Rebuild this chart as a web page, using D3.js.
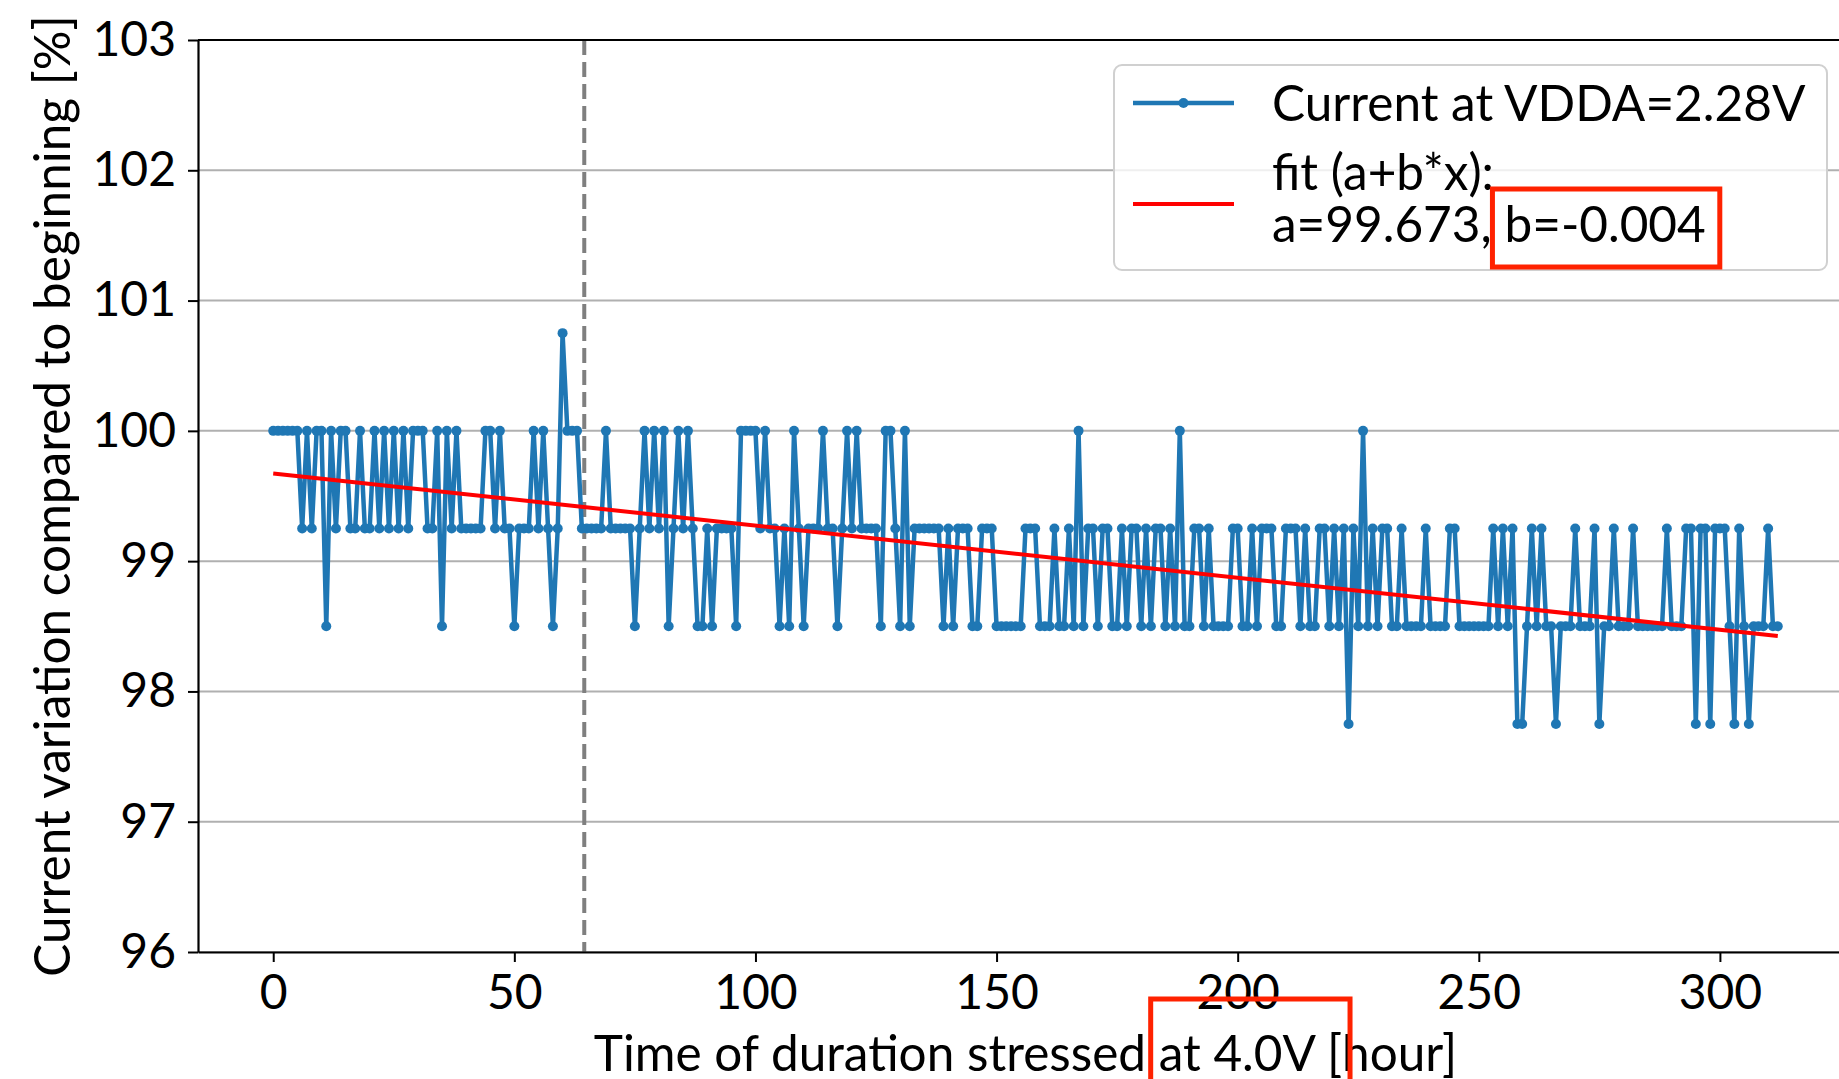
<!DOCTYPE html>
<html>
<head>
<meta charset="utf-8">
<script src="https://cdn.jsdelivr.net/npm/d3@7"></script>
<style>
  body { margin: 0; background: #fff; }
  svg text { font-family: Lato, "DejaVu Sans", sans-serif; fill: #000; }
</style>
</head>
<body>
<svg id="chart" width="1839" height="1079"></svg>
<script>
// Relative supply current (% of first reading), one reading per hour of stress.
const currentPct = [
  100,100,100,100,100,100,99.25,100,99.25,100,
  100,98.5,100,99.25,100,100,99.25,99.25,100,99.25,
  99.25,100,99.25,100,99.25,100,99.25,100,99.25,100,
  100,100,99.25,99.25,100,98.5,100,99.25,100,99.25,
  99.25,99.25,99.25,99.25,100,100,99.25,100,99.25,99.25,
  98.5,99.25,99.25,99.25,100,99.25,100,99.25,98.5,99.25,
  100.75,100,100,100,99.25,99.25,99.25,99.25,99.25,100,
  99.25,99.25,99.25,99.25,99.25,98.5,99.25,100,99.25,100,
  99.25,100,98.5,99.25,100,99.25,100,99.25,98.5,98.5,
  99.25,98.5,99.25,99.25,99.25,99.25,98.5,100,100,100,
  100,99.25,100,99.25,99.25,98.5,99.25,98.5,100,99.25,
  98.5,99.25,99.25,99.25,100,99.25,99.25,98.5,99.25,100,
  99.25,100,99.25,99.25,99.25,99.25,98.5,100,100,99.25,
  98.5,100,98.5,99.25,99.25,99.25,99.25,99.25,99.25,98.5,
  99.25,98.5,99.25,99.25,99.25,98.5,98.5,99.25,99.25,99.25,
  98.5,98.5,98.5,98.5,98.5,98.5,99.25,99.25,99.25,98.5,
  98.5,98.5,99.25,98.5,98.5,99.25,98.5,100,98.5,99.25,
  99.25,98.5,99.25,99.25,98.5,98.5,99.25,98.5,99.25,99.25,
  98.5,99.25,98.5,99.25,99.25,98.5,99.25,98.5,100,98.5,
  98.5,99.25,99.25,98.5,99.25,98.5,98.5,98.5,98.5,99.25,
  99.25,98.5,98.5,99.25,98.5,99.25,99.25,99.25,98.5,98.5,
  99.25,99.25,99.25,98.5,99.25,98.5,98.5,99.25,99.25,98.5,
  99.25,98.5,99.25,97.75,99.25,98.5,100,98.5,99.25,98.5,
  99.25,99.25,98.5,98.5,99.25,98.5,98.5,98.5,98.5,99.25,
  98.5,98.5,98.5,98.5,99.25,99.25,98.5,98.5,98.5,98.5,
  98.5,98.5,98.5,99.25,98.5,99.25,98.5,99.25,97.75,97.75,
  98.5,99.25,98.5,99.25,98.5,98.5,97.75,98.5,98.5,98.5,
  99.25,98.5,98.5,98.5,99.25,97.75,98.5,98.5,99.25,98.5,
  98.5,98.5,99.25,98.5,98.5,98.5,98.5,98.5,98.5,99.25,
  98.5,98.5,98.5,99.25,99.25,97.75,99.25,99.25,97.75,99.25,
  99.25,99.25,98.5,97.75,99.25,98.5,97.75,98.5,98.5,98.5,
  99.25,98.5,98.5
];
const hoursPerReading = 1;

// Linear fit parameters (a + b*x)
const fitA = 99.673;
const fitB = -0.004;

// Hour at which the vertical marker is drawn
const markerHour = 64.5;

const xTicks = [0, 50, 100, 150, 200, 250, 300];
const yTicks = [96, 97, 98, 99, 100, 101, 102, 103];

const seriesLabel = "Current at VDDA=2.28V";
const fitLabel1 = "fit (a+b*x):";
const fitLabel2 = `a=${fitA}, b=${fitB}`;
const xTitle = "Time of duration stressed at 4.0V [hour]";
const yTitle = "Current variation compared to beginning [%]";

// ---------------------------------------------------------------
const points = currentPct.map((v, i) => ({ h: i * hoursPerReading, v }));
const lastHour = points[points.length - 1].h;

const svg = d3.select("#chart");
const L = 198, R = 1853, T = 40, B = 952;
const FS = 49.5;   // titles and legend
const TFS = 48;    // tick labels

const xPad = lastHour * 0.05;
const x = d3.scaleLinear().domain([-xPad, lastHour + xPad]).range([L, R]);
const y = d3.scaleLinear().domain([96, 103]).range([B, T]);

// horizontal grid
svg.append("g").selectAll("line").data(yTicks).join("line")
  .attr("x1", L).attr("x2", R)
  .attr("y1", d => y(d)).attr("y2", d => y(d))
  .attr("stroke", "#b0b0b0").attr("stroke-width", 2);

// dashed marker
svg.append("line")
  .attr("x1", x(markerHour)).attr("x2", x(markerHour))
  .attr("y1", T).attr("y2", B)
  .attr("stroke", "#7f7f7f").attr("stroke-width", 4)
  .attr("stroke-dasharray", "15,7");

// measured series
svg.append("path").datum(points)
  .attr("fill", "none").attr("stroke", "#1f77b4").attr("stroke-width", 4.5)
  .attr("stroke-linejoin", "round")
  .attr("d", d3.line().x(d => x(d.h)).y(d => y(d.v)));
svg.append("g").selectAll("circle").data(points).join("circle")
  .attr("cx", d => x(d.h)).attr("cy", d => y(d.v)).attr("r", 5)
  .attr("fill", "#1f77b4");

// fit line
const fitPts = [0, lastHour].map(h => ({ h, v: fitA + fitB * h }));
svg.append("path").datum(fitPts)
  .attr("fill", "none").attr("stroke", "#ff0000").attr("stroke-width", 4)
  .attr("d", d3.line().x(d => x(d.h)).y(d => y(d.v)));

// axes
const xAxis = svg.append("g").attr("transform", `translate(0,${B})`)
  .call(d3.axisBottom(x).tickValues(xTicks).tickFormat(d3.format("d")).tickSize(10).tickPadding(13).tickSizeOuter(0));
const yAxis = svg.append("g").attr("transform", `translate(${L},0)`)
  .call(d3.axisLeft(y).tickValues(yTicks).tickFormat(d3.format("d")).tickSize(10).tickPadding(12).tickSizeOuter(0));
[xAxis, yAxis].forEach(g => {
  g.selectAll("text").attr("font-size", TFS).attr("fill", "#000");
  g.selectAll(".tick line").attr("stroke", "#000").attr("stroke-width", 2);
  g.select(".domain").attr("stroke", "#000").attr("stroke-width", 2.2);
});
// top and right spines
svg.append("line").attr("x1", L).attr("x2", R).attr("y1", T).attr("y2", T)
  .attr("stroke", "#000").attr("stroke-width", 2.2);
svg.append("line").attr("x1", R).attr("x2", R).attr("y1", T).attr("y2", B)
  .attr("stroke", "#000").attr("stroke-width", 2.2);

// axis titles
const xt = svg.append("text").attr("x", (L + R) / 2).attr("y", 1071)
  .attr("text-anchor", "middle").attr("font-size", FS).text(xTitle);
svg.append("text")
  .attr("transform", `translate(51,${(T + B) / 2}) rotate(-90)`)
  .attr("text-anchor", "middle").attr("dominant-baseline", "central")
  .attr("font-size", FS).text(yTitle);

// legend
const lg = svg.append("g");
lg.append("rect").attr("x", 1114).attr("y", 65).attr("width", 713).attr("height", 205)
  .attr("rx", 8).attr("fill", "#fff").attr("fill-opacity", 0.8)
  .attr("stroke", "#d0d0d0").attr("stroke-width", 2);
lg.append("line").attr("x1", 1133).attr("x2", 1234).attr("y1", 103).attr("y2", 103)
  .attr("stroke", "#1f77b4").attr("stroke-width", 4.5);
lg.append("circle").attr("cx", 1183.5).attr("cy", 103).attr("r", 5).attr("fill", "#1f77b4");
lg.append("line").attr("x1", 1133).attr("x2", 1234).attr("y1", 204).attr("y2", 204)
  .attr("stroke", "#ff0000").attr("stroke-width", 4);
lg.append("text").attr("x", 1272).attr("y", 121).attr("font-size", FS).text(seriesLabel);
lg.append("text").attr("x", 1272).attr("y", 190).attr("font-size", FS).text(fitLabel1);
const fit2 = lg.append("text").attr("x", 1272).attr("y", 242).attr("font-size", FS).text(fitLabel2);

// highlight boxes around the slope value and the stress voltage
const hl = svg.append("g").attr("fill", "none").attr("stroke", "#ff2200").attr("stroke-width", 5);
{
  const node = fit2.node();
  const i0 = fitLabel2.indexOf("b=");
  const x0 = node.getStartPositionOfChar(i0).x;
  const x1 = node.getEndPositionOfChar(fitLabel2.length - 1).x;
  hl.append("rect").attr("x", x0 - 12).attr("y", 189).attr("width", x1 - x0 + 26).attr("height", 78);
}
{
  const node = xt.node();
  const i0 = xTitle.indexOf("at 4");
  const i1 = xTitle.indexOf("hour");
  const x0 = node.getStartPositionOfChar(i0).x;
  const x1 = node.getStartPositionOfChar(i1).x;
  hl.append("rect").attr("x", x0 - 8).attr("y", 999).attr("width", x1 - x0 + 16).attr("height", 120);
}
</script>
</body>
</html>
